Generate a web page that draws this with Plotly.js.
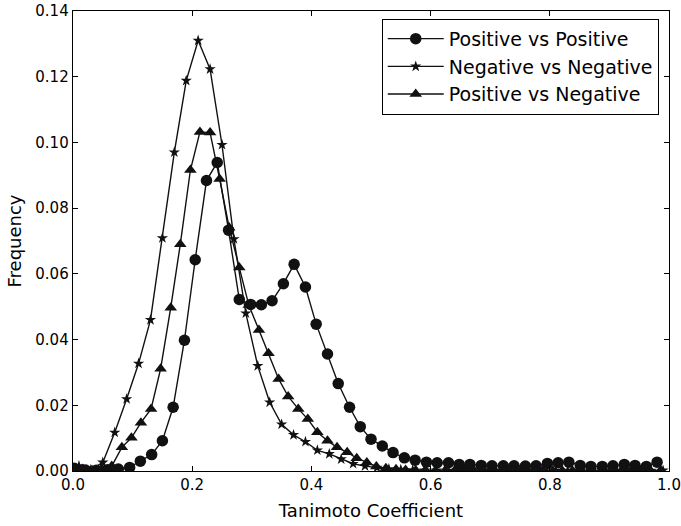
<!DOCTYPE html>
<html>
<head>
<meta charset="utf-8">
<script src="https://cdn.plot.ly/plotly-3.0.1.min.js"></script>
<style>html,body{margin:0;padding:0;background:#fff;}#chart{width:681px;height:526px;}</style>
</head>
<body>
<div id="chart"></div>
<script>
// Positive vs Positive
var ppX = [0.002,0.021,0.039,0.058,0.076,0.095,0.113,0.132,0.150,0.168,0.187,0.205,0.224,0.242,0.261,0.279,0.298,0.316,0.334,0.353,0.371,0.390,0.408,0.427,0.445,0.464,0.482,0.500,0.519,0.537,0.556,0.574,0.593,0.611,0.630,0.648,0.666,0.685,0.703,0.722,0.740,0.759,0.777,0.796,0.814,0.832,0.851,0.869,0.888,0.906,0.925,0.943,0.962,0.980];
var ppY = [0.0008,0.0003,0.0002,0.0004,0.0006,0.0011,0.0030,0.0050,0.0092,0.0194,0.0398,0.0643,0.0884,0.0939,0.0733,0.0522,0.0507,0.0506,0.0518,0.0570,0.0629,0.0560,0.0447,0.0356,0.0266,0.0194,0.0135,0.0097,0.0076,0.0056,0.0040,0.0033,0.0027,0.0025,0.0025,0.0020,0.0020,0.0017,0.0016,0.0016,0.0016,0.0015,0.0016,0.0023,0.0025,0.0027,0.0017,0.0014,0.0014,0.0016,0.0020,0.0017,0.0014,0.0027];

// Negative vs Negative
var nnX = [0.01,0.03,0.05,0.07,0.09,0.11,0.13,0.15,0.17,0.19,0.21,0.23,0.25,0.27,0.29,0.31,0.33,0.35,0.37,0.39,0.41,0.43,0.45,0.47,0.49,0.51,0.53,0.55,0.57,0.59,0.61,0.63,0.65,0.67,0.69,0.71,0.73,0.75,0.77,0.79,0.81,0.83,0.85,0.87,0.89,0.91,0.93,0.95,0.97,0.99];
var nnY = [0.0015,0.0004,0.0026,0.0117,0.0219,0.0327,0.0460,0.0709,0.0970,0.1188,0.1310,0.1223,0.0993,0.0706,0.0480,0.0320,0.0209,0.0142,0.0110,0.0089,0.0063,0.0052,0.0036,0.0022,0.0015,0.0010,0.0006,0.0004,0.0003,0.0002,0.0002,0.0001,0.0001,0.0001,0.0001,0.0001,0.0001,0.0001,0.0001,0.0001,0.0001,0.0001,0.0001,0.0001,0.0001,0.0001,0.0001,0.0001,0.0001,0.0002];

// Positive vs Negative
var pnX = [0.016,0.032,0.049,0.065,0.082,0.098,0.114,0.131,0.147,0.164,0.180,0.197,0.213,0.230,0.246,0.262,0.279,0.295,0.312,0.328,0.345,0.361,0.378,0.394,0.410,0.427,0.443,0.460,0.476,0.493,0.509,0.525,0.542,0.558,0.575,0.591,0.608,0.624,0.640,0.657,0.673,0.690,0.706,0.723,0.739,0.755,0.772,0.788,0.805,0.821,0.838,0.854,0.871,0.887,0.903,0.920,0.936,0.953,0.969,0.986];
var pnY = [0.0006,0.0002,0.0005,0.0015,0.0072,0.0101,0.0147,0.0189,0.0311,0.0497,0.0690,0.0916,0.1032,0.1030,0.0889,0.0741,0.0619,0.0505,0.0429,0.0358,0.0280,0.0227,0.0189,0.0158,0.0118,0.0092,0.0072,0.0057,0.0039,0.0026,0.0014,0.0008,0.0005,0.0003,0.0002,0.0002,0.0001,0.0001,0.0001,0.0001,0.0001,0.0001,0.0001,0.0001,0.0001,0.0001,0.0001,0.0001,0.0001,0.0001,0.0001,0.0001,0.0001,0.0001,0.0001,0.0001,0.0001,0.0001,0.0001,0.0002];

var seriesNames = ['Positive vs Positive','Negative vs Negative','Positive vs Negative'];
var xTicks = [0,0.2,0.4,0.6,0.8,1.0];
var yTicks = [0,0.02,0.04,0.06,0.08,0.10,0.12,0.14];

var ink = '#111111';
function tr(x, y, name, sym, size){
  return {x:x, y:y, name:name, type:'scatter', mode:'lines+markers',
    line:{color:ink, width:1.4},
    marker:{symbol:sym, size:size, color:ink, line:{width:0}}};
}
var data = [
  tr(ppX, ppY, seriesNames[0], 'circle', 11.5),
  tr(nnX, nnY, seriesNames[1], 'star', 8.5),
  tr(pnX, pnY, seriesNames[2], 'triangle-up', 11)
];
var axBase = {showline:true, linecolor:'#000', linewidth:1.3, mirror:'allticks',
  ticks:'inside', ticklen:5, tickwidth:1, tickcolor:'#000', showgrid:false, zeroline:false,
  tickfont:{family:'DejaVu Sans', size:15, color:'#000'}};
var layout = {
  width:681, height:526,
  margin:{l:73, r:12, t:11, b:55},
  paper_bgcolor:'#fff', plot_bgcolor:'#fff',
  font:{family:'DejaVu Sans', color:'#000'},
  xaxis:Object.assign({}, axBase, {range:[0,1], tickvals:xTicks, tickformat:'.1f',
    title:{text:'Tanimoto Coefficient', font:{size:18}, standoff:11}}),
  yaxis:Object.assign({}, axBase, {range:[0,0.14], tickvals:yTicks, tickformat:'.2f',
    title:{text:'Frequency', font:{size:18}, standoff:9}}),
  showlegend:true,
  legend:{x:0.518, y:0.983, xanchor:'left', yanchor:'top', bgcolor:'#fff',
    bordercolor:'#000', borderwidth:1, font:{size:19, family:'DejaVu Sans'},
    itemwidth:56, traceorder:'normal'}
};
Plotly.newPlot('chart', data, layout, {displayModeBar:false, staticPlot:true});
</script>
</body>
</html>
